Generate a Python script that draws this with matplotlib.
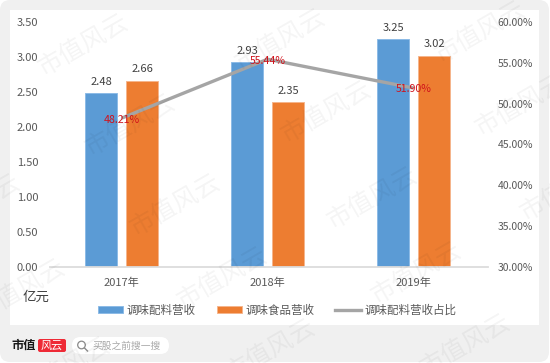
import matplotlib
matplotlib.use("Agg")
import matplotlib.pyplot as plt
from matplotlib.patches import FancyBboxPatch, Rectangle, Circle
from matplotlib.lines import Line2D
import numpy as np

plt.rcParams['font.family'] = ['Noto Sans CJK SC', 'DejaVu Sans']

years = ['2017年', '2018年', '2019年']
seasoning = [2.48, 2.93, 3.25]
food = [2.66, 2.35, 3.02]
share = [48.21, 55.44, 51.90]
share_labels = ['48.21%', '55.44%', '51.90%']
left_ticks = [0, 0.5, 1, 1.5, 2, 2.5, 3, 3.5]
right_ticks = [30, 35, 40, 45, 50, 55, 60]
names = ['调味配料营收', '调味食品营收', '调味配料营收占比']

W, H = 550, 363
BLUE, ORANGE, GREY = '#5b9bd5', '#ed7d31', '#a5a5a5'
TXT = '#595959'

fig = plt.figure(figsize=(W / 100, H / 100), dpi=100, facecolor='white')

# card background in pixel coordinates
bg = fig.add_axes([0, 0, 1, 1], zorder=0)
bg.set_xlim(0, W); bg.set_ylim(H, 0); bg.axis('off')
bg.add_patch(FancyBboxPatch((0, 0), W - 1, H - 1, boxstyle='round,pad=0,rounding_size=10',
                            fc='#f0f0f0', ec='none'))
bg.add_patch(Rectangle((10, 10), 529, 315, fc='white', ec='none'))

# chart
left, right, top, bottom = 50, 488, 22, 266.7
ax = fig.add_axes([left / W, 1 - bottom / H, (right - left) / W, (bottom - top) / H], zorder=2)
ax.patch.set_alpha(0)
x = np.arange(len(years))
bw = 0.22
ax.bar(x - 0.14, seasoning, bw, color=BLUE, edgecolor='#8dbbe6', linewidth=0.7, zorder=2)
ax.bar(x + 0.14, food, bw, color=ORANGE, edgecolor='#f6b58c', linewidth=0.7, zorder=2)
ax.set_xlim(-0.4904, 2.5096)
ax.set_ylim(0, 3.5)
ax.set_yticks(left_ticks, [f'{v:.2f}' for v in left_ticks])
ax.set_xticks(x, years)
ax.tick_params(axis='both', length=0, labelsize=8, labelcolor=TXT)
ax.tick_params(axis='y', pad=8.5)
ax.tick_params(axis='x', pad=8)
for s in ('top', 'left', 'right'):
    ax.spines[s].set_visible(False)
ax.spines['bottom'].set_color('#dcdcdc')
ax.spines['bottom'].set_linewidth(1.3)
for xi, v in zip(x - 0.14, seasoning):
    ax.annotate(f'{v:.2f}', (xi, v), xytext=(0, 4.5), textcoords='offset points',
                ha='center', va='bottom', fontsize=8, color='#404040')
for xi, v in zip(x + 0.14, food):
    ax.annotate(f'{v:.2f}', (xi, v), xytext=(0, 4.5), textcoords='offset points',
                ha='center', va='bottom', fontsize=8, color='#404040')

ax2 = ax.twinx()
ax2.set_zorder(3)
ax2.patch.set_alpha(0)
ax2.plot(x, share, color=GREY, lw=2.4, solid_capstyle='butt')
ax2.set_ylim(30, 60)
ax2.set_yticks(right_ticks, [f'{v:.2f}%' for v in right_ticks])
ax2.tick_params(axis='y', length=0, labelsize=7.5, labelcolor=TXT, pad=7)
for s in ax2.spines.values():
    s.set_visible(False)
for xi, v, t in zip(x, share, share_labels):
    ax2.annotate(t, (xi, v), xytext=(0, -1), textcoords='offset points', ha='center', va='center',
                 fontsize=7.6, color='#d0121b')

# overlay: unit, legend, footer, watermark
ov = fig.add_axes([0, 0, 1, 1], zorder=5)
ov.set_xlim(0, W); ov.set_ylim(H, 0); ov.axis('off'); ov.patch.set_alpha(0)
ov.text(23, 296.5, '亿元', fontsize=9.7, color='#404040', va='center', ha='left')

handles = [Rectangle((0, 0), 1, 1, fc=BLUE, ec='#8dbbe6', lw=0.7),
           Rectangle((0, 0), 1, 1, fc=ORANGE, ec='#f6b58c', lw=0.7),
           Line2D([], [], color=GREY, lw=2.4)]
fig.legend(handles, names, ncol=3, frameon=False, fontsize=8.3, labelcolor=TXT,
           loc='center left', bbox_to_anchor=(97.7 / W, 1 - 310 / H),
           handlelength=2.22, handleheight=0.55, handletextpad=0.3, columnspacing=1.8,
           borderpad=0, borderaxespad=0)

# footer
ov.text(11, 345.5, '市值', fontsize=8.8, fontweight='bold', color='#1a1a1a', va='center', ha='left')
ov.add_patch(FancyBboxPatch((38, 339), 28, 13, boxstyle='round,pad=0,rounding_size=2',
                            fc='#ee2a36', ec='none'))
ov.text(52, 345.3, '风云', fontsize=8, color='white', va='center', ha='center', style='italic')
ov.add_patch(FancyBboxPatch((72, 337), 97, 17, boxstyle='round,pad=0,rounding_size=8.5',
                            fc='white', ec='none'))
ov.add_patch(Circle((81.5, 345), 3.8, fc='none', ec='#8a8a8a', lw=0.9))
ov.plot([84.5, 87.5], [348, 351], color='#8a8a8a', lw=1)
ov.text(92, 345.5, '买股之前搜一搜', fontsize=7, color='#a8a8a8', va='center', ha='left')

# watermark
marks = [(83, 45), (130, 125), (175, 205), (222, 278), (20, 290), (-25, 205), (65, 368),
         (280, 40), (326, 112), (372, 198), (416, 273), (465, 345),
         (480, 32), (520, 105), (565, 190), (270, 350)]
for mx, my in marks:
    ov.text(mx, my, '市值风云', fontsize=18, color='black', alpha=0.045, rotation=30, fontweight='light',
            ha='center', va='center', rotation_mode='anchor', clip_on=True)

fig.savefig('out.png', dpi=100)
